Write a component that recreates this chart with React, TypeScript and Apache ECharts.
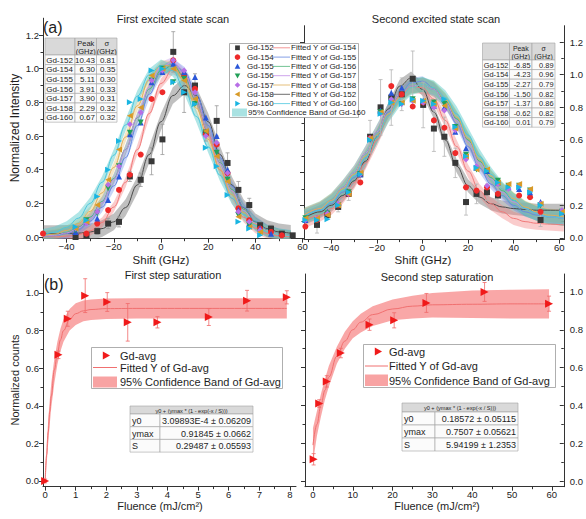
import React, { useEffect, useRef } from "react";
import * as echarts from "echarts";

const FONT = "'Liberation Sans', Arial, Helvetica, sans-serif";

const ISOTOPES = ["Gd-152", "Gd-154", "Gd-155", "Gd-156", "Gd-157", "Gd-158", "Gd-160"];

/* ---------- (a) First excited state scan: measured points ---------- */
const SCAN1_X = [-50, -45.4, -40.8, -36.2, -31.6, -27, -22.4, -17.8, -13.2, -8.6, -4, 0.6, 5.2, 9.8, 14.4, 19, 23.6, 28.2, 32.8, 37.4, 42, 46.6, 51.2, 55.8];
const SCAN1_GD152 = [null, null, null, 0.0, 0.01, 0.035, 0.08, 0.09, 0.36, 0.34, 0.45, 0.58, 1.10, 0.86, 0.90, 0.62, 0.69, 0.44, 0.28, 0.19, 0.07, 0.05, 0.02, 0.01];
const SCAN1_GD154 = [0.02, null, null, null, 0.02, 0.08, 0.16, 0.28, 0.37, 0.49, 0.82, 0.86, 1.05, 0.96, 0.88, 0.61, 0.55, 0.38, 0.17, 0.10, 0.05, 0.03, 0.01, null];
const SCAN1_GD155 = [null, null, null, 0.03, 0.09, 0.11, 0.22, 0.36, 0.61, 0.68, 0.92, 0.98, 1.03, 0.98, 0.95, 0.71, 0.60, 0.40, 0.16, 0.08, 0.05, 0.02, null, null];
const SCAN1_GD156 = [null, null, null, 0.04, 0.10, 0.14, 0.29, 0.42, 0.62, 0.68, 0.93, 1.00, 0.92, 0.94, 0.79, 0.62, 0.50, 0.34, 0.13, 0.07, 0.03, null, null, null];
const SCAN1_GD157 = [null, null, null, 0.05, 0.08, 0.15, 0.31, 0.42, 0.67, 0.74, 0.93, 0.99, 1.05, 0.99, 0.86, 0.60, 0.56, 0.38, 0.15, 0.09, 0.04, null, null, null];
const SCAN1_GD158 = [null, null, null, 0.05, 0.09, 0.19, 0.34, 0.52, 0.72, 0.77, 0.96, 1.00, 1.00, 0.93, 0.82, 0.63, 0.48, 0.33, 0.12, 0.06, 0.03, null, null, null];
const SCAN1_GD160 = [null, null, null, 0.06, 0.10, 0.24, 0.40, 0.57, 0.80, 0.82, 0.99, 1.00, 0.92, 0.86, 0.79, 0.53, 0.42, 0.25, 0.09, 0.05, 0.01, null, null, null];
const SCAN1_ERR_GD152 = [null, null, null, 0.01, 0.01, 0.02, 0.03, 0.03, 0.03, 0.04, 0.08, 0.09, 0.12, 0.12, 0.07, 0.05, 0.09, 0.06, 0.05, 0.04, 0.02, 0.02, 0.01, 0.01];

/* ---------- (a) First excited state scan: fitted curves ---------- */
const FIT1_X = [-50, -45, -40, -35, -30, -25, -20, -15, -10, -5, 0, 5, 10, 15, 20, 25, 30, 35, 40, 45, 50, 55];
const FIT1_GD152 = [0.02, 0.02, 0.021, 0.023, 0.03, 0.05, 0.09, 0.175, 0.31, 0.49, 0.685, 0.84, 0.9, 0.84, 0.685, 0.49, 0.31, 0.175, 0.09, 0.05, 0.03, 0.022];
const FIT1_GD154 = [0, 0.001, 0.005, 0.014, 0.037, 0.086, 0.178, 0.325, 0.52, 0.734, 0.912, 0.997, 0.96, 0.813, 0.607, 0.398, 0.23, 0.117, 0.052, 0.021, 0.007, 0.002];
const FIT1_GD155 = [0.003, 0.008, 0.02, 0.045, 0.094, 0.177, 0.304, 0.472, 0.663, 0.848, 0.98, 1.03, 0.98, 0.848, 0.663, 0.472, 0.304, 0.177, 0.094, 0.045, 0.02, 0.008];
const FIT1_GD156 = [0.004, 0.011, 0.027, 0.059, 0.118, 0.211, 0.348, 0.52, 0.709, 0.879, 0.99, 1.02, 0.951, 0.809, 0.626, 0.441, 0.283, 0.165, 0.088, 0.042, 0.018, 0.007];
const FIT1_GD157 = [0.004, 0.01, 0.024, 0.054, 0.11, 0.204, 0.341, 0.518, 0.713, 0.891, 1.01, 1.04, 0.967, 0.817, 0.627, 0.436, 0.275, 0.157, 0.082, 0.038, 0.016, 0.006];
const FIT1_GD158 = [0.007, 0.017, 0.039, 0.08, 0.152, 0.262, 0.413, 0.594, 0.78, 0.934, 1.02, 1.016, 0.924, 0.766, 0.58, 0.4, 0.252, 0.145, 0.076, 0.036, 0.016, 0.006];
const FIT1_GD160 = [0.012, 0.028, 0.058, 0.112, 0.2, 0.325, 0.486, 0.666, 0.837, 0.964, 1.02, 0.988, 0.878, 0.716, 0.536, 0.367, 0.231, 0.133, 0.07, 0.034, 0.015, 0.006];
const BAND1_HALF = [0.05, 0.03, 0.03, 0.03, 0.03, 0.03, 0.035];
const PEAK1 = ["10.43", "6.30", "5.11", "3.91", "3.90", "2.29", "0.67"];
const SIGMA1 = ["0.81", "0.35", "0.30", "0.33", "0.31", "0.32", "0.32"];

/* ---------- (a) Second excited state scan: measured points ---------- */
const SCAN2_X = [-51.4, -46.3, -41.7, -37, -32.4, -27.3, -23, -18.4, -13.7, -9.1, -4.3, 0.3, 5, 9.6, 14.4, 19.1, 23.7, 28.3, 33.1, 37.7, 42.4, 47.2, 51.8, 56.5, 61.2];
const SCAN2_GD152 = [null, 0.08, 0.14, 0.19, 0.27, 0.39, 0.62, 0.80, 0.86, 0.88, 0.975, 0.815, 0.67, 0.62, 0.46, 0.22, 0.27, 0.28, 0.26, null, null, null, 0.11, null, null];
const SCAN2_GD154 = [0.07, 0.11, 0.15, 0.2, 0.27, 0.34, 0.61, 0.77, 0.93, 0.88, 0.805, 0.83, 0.72, 0.675, 0.52, 0.31, 0.29, 0.31, 0.27, null, 0.26, 0.25, 0.16, null, null];
const SCAN2_GD155 = [0.11, 0.12, 0.16, 0.21, 0.28, 0.39, 0.61, 0.78, 0.89, 0.92, 0.85, 0.84, 0.81, 0.80, 0.65, 0.55, 0.43, 0.41, 0.34, 0.31, 0.30, 0.28, 0.22, null, 0.16];
const SCAN2_GD156 = [0.12, 0.11, 0.15, 0.2, 0.28, 0.39, 0.6, 0.77, 0.84, 0.82, 0.85, 0.83, 0.83, 0.82, 0.68, 0.51, 0.42, 0.41, 0.35, 0.32, 0.32, 0.29, 0.2, null, 0.16];
const SCAN2_GD157 = [0.11, 0.12, 0.15, 0.21, 0.27, 0.39, 0.61, 0.76, 0.85, 0.82, 0.84, 0.83, 0.8, 0.78, 0.66, 0.48, 0.44, 0.32, 0.33, 0.3, 0.32, 0.29, 0.21, null, 0.17];
const SCAN2_GD158 = [0.12, 0.12, 0.14, 0.2, 0.27, 0.4, 0.61, 0.77, 0.83, 0.83, 0.84, 0.84, 0.82, 0.81, 0.67, 0.5, 0.42, 0.42, 0.34, 0.33, 0.33, 0.3, 0.21, null, 0.16];
const SCAN2_GD160 = [0.11, 0.11, 0.115, 0.2, 0.28, 0.39, 0.6, 0.76, 0.83, 0.82, 0.85, 0.84, 0.82, 0.85, 0.68, 0.5, 0.43, 0.41, 0.34, 0.31, 0.31, 0.28, 0.2, null, 0.15];
const SCAN2_ERR_GD152 = [null, 0.05, 0.02, 0.03, 0.04, 0.05, 0.1, 0.17, 0.17, 0.1, 0.17, 0.14, 0.14, 0.12, 0.09, 0.08, 0.06, 0.05, 0.05, null, null, null, 0.04, null, null];

/* ---------- (a) Second excited state scan: fitted curves ---------- */
const FIT2_X = [-52, -45, -40, -35, -30, -25, -20, -15, -10, -5, 0, 5, 10, 15, 20, 25, 30, 35, 40, 45, 50, 55, 62];
const FIT2_GD152 = [0.12, 0.16, 0.2, 0.26, 0.35, 0.47, 0.62, 0.79, 0.93, 0.98, 0.91, 0.77, 0.6, 0.44, 0.32, 0.25, 0.21, 0.19, 0.18, 0.175, 0.17, 0.17, 0.17];
const FIT2_GD154 = [0.1, 0.14, 0.18, 0.25, 0.34, 0.46, 0.6, 0.75, 0.87, 0.93, 0.92, 0.85, 0.72, 0.56, 0.41, 0.29, 0.21, 0.16, 0.12, 0.1, 0.09, 0.085, 0.08];
const FIT2_GD155 = [0.13, 0.17, 0.21, 0.28, 0.37, 0.49, 0.63, 0.77, 0.88, 0.95, 0.96, 0.92, 0.83, 0.7, 0.56, 0.43, 0.33, 0.26, 0.2, 0.16, 0.14, 0.13, 0.12];
const FIT2_GD156 = [0.14, 0.18, 0.23, 0.31, 0.4, 0.52, 0.65, 0.78, 0.88, 0.93, 0.94, 0.91, 0.84, 0.73, 0.6, 0.47, 0.37, 0.29, 0.23, 0.18, 0.15, 0.13, 0.12];
const FIT2_GD157 = [0.14, 0.18, 0.23, 0.31, 0.4, 0.52, 0.65, 0.78, 0.88, 0.93, 0.94, 0.91, 0.83, 0.72, 0.59, 0.46, 0.36, 0.28, 0.22, 0.18, 0.15, 0.13, 0.12];
const FIT2_GD158 = [0.14, 0.18, 0.23, 0.3, 0.39, 0.5, 0.63, 0.76, 0.86, 0.92, 0.94, 0.92, 0.85, 0.74, 0.61, 0.48, 0.38, 0.3, 0.24, 0.19, 0.16, 0.14, 0.13];
const FIT2_GD160 = [0.13, 0.17, 0.22, 0.29, 0.38, 0.49, 0.62, 0.75, 0.85, 0.92, 0.94, 0.92, 0.86, 0.76, 0.63, 0.5, 0.39, 0.3, 0.23, 0.18, 0.15, 0.13, 0.12];
const BAND2_HALF = [0.04, 0.04, 0.03, 0.045, 0.04, 0.04, 0.045];
const PEAK2 = ["-6.85", "-4.23", "-2.27", "-1.50", "-1.37", "-0.62", "0.01"];
const SIGMA2 = ["0.89", "0.96", "0.79", "0.82", "0.86", "0.82", "0.79"];

/* ---------- (b) First step saturation ---------- */
const FLU1_X = [0, 0.435, 0.74, 1.31, 2.03, 2.70, 3.67, 5.35, 6.6, 7.9];
const FLU1_Y = [0.0, 0.671, 0.863, 0.986, 0.952, 0.844, 0.844, 0.872, 0.959, 0.977];
const FLU1_ERR = [0.01, 0.02, 0.04, 0.09, 0.05, 0.1, 0.03, 0.045, 0.055, 0.035];
const FLU1_FIT_X = [0, 0.05, 0.1, 0.15, 0.2, 0.3, 0.4, 0.5, 0.6, 0.8, 1.0, 1.25, 1.5, 2, 3, 5, 7.9];
const FLU1_FIT_Y = [0, 0.14, 0.26, 0.37, 0.45, 0.59, 0.68, 0.75, 0.8, 0.86, 0.89, 0.905, 0.912, 0.917, 0.918, 0.918, 0.918];
const FLU1_BAND_LO = [-0.04, 0.09, 0.2, 0.3, 0.39, 0.52, 0.62, 0.69, 0.74, 0.8, 0.83, 0.85, 0.857, 0.862, 0.864, 0.864, 0.864];
const FLU1_BAND_HI = [0.04, 0.2, 0.32, 0.43, 0.52, 0.65, 0.74, 0.81, 0.86, 0.915, 0.945, 0.96, 0.966, 0.971, 0.972, 0.972, 0.972];
const PARAMS1 = ["3.09893E-4 ± 0.06209", "0.91845 ± 0.0662", "0.29487 ± 0.05593"];

/* ---------- (b) Second step saturation ---------- */
const FLU2_X = [0.17, 1.57, 3.47, 7.0, 14.2, 20.4, 28.5, 43.1, 59.3];
const FLU2_Y = [0.115, 0.41, 0.527, 0.677, 0.827, 0.85, 0.942, 1.0, 0.938];
const FLU2_ERR = [0.03, 0.02, 0.03, 0.025, 0.03, 0.04, 0.05, 0.05, 0.04];
const FLU2_FIT_X = [0, 1, 2, 3, 4, 6, 8, 10, 12, 15, 20, 25, 30, 40, 50, 59.3];
const FLU2_FIT_Y = [0.19, 0.3, 0.4, 0.48, 0.55, 0.66, 0.74, 0.8, 0.84, 0.88, 0.91, 0.925, 0.932, 0.935, 0.937, 0.937];
const FLU2_BAND_LO = [0.1, 0.24, 0.34, 0.43, 0.5, 0.62, 0.7, 0.755, 0.785, 0.82, 0.85, 0.86, 0.865, 0.862, 0.86, 0.86];
const FLU2_BAND_HI = [0.28, 0.37, 0.46, 0.54, 0.61, 0.71, 0.79, 0.845, 0.885, 0.925, 0.96, 0.98, 0.995, 1.008, 1.012, 1.014];
const PARAMS2 = ["0.18572 ± 0.05115", "0.7507 ± 0.05621", "5.94199 ± 1.2353"];

const FIT_FORMULA = "y0 + (ymax * (1 - exp(-x / S)))";
const PARAM_NAMES = ["y0", "ymax", "S"];

/* ---------- tick values ---------- */
const SHIFT_TICKS = [-40, -20, 0, 20, 40, 60];
const SHIFT_MINOR = [-50, -30, -10, 10, 30, 50];
const INTENSITY_TICKS = [0, 0.2, 0.4, 0.6, 0.8, 1.0, 1.2];
const INTENSITY_MINOR = [0.1, 0.3, 0.5, 0.7, 0.9, 1.1];
const FLU1_TICKS = [0, 1, 2, 3, 4, 5, 6, 7, 8];
const FLU1_MINOR = [0.5, 1.5, 2.5, 3.5, 4.5, 5.5, 6.5, 7.5];
const FLU2_TICKS = [0, 10, 20, 30, 40, 50, 60];
const FLU2_MINOR = [5, 15, 25, 35, 45, 55];
const COUNT_TICKS = [0, 0.2, 0.4, 0.6, 0.8, 1.0];
const COUNT_MINOR = [0.1, 0.3, 0.5, 0.7, 0.9];

/* ---------- styles ---------- */
const MARK_COLORS = ["#383838", "#ee2a2a", "#2a56d8", "#22a058", "#b86ee6", "#d89a28", "#19b5e2"];
const FIT_COLORS = ["#4a4a4a", "#f07a7a", "#6688e0", "#4fb57a", "#c08ce6", "#deae58", "#4cc6de"];
const BAND_COLORS = ["rgba(105,105,105,0.42)", "rgba(242,120,120,0.38)", "rgba(95,135,230,0.35)", "rgba(80,180,120,0.42)", "rgba(185,135,230,0.35)", "rgba(228,180,90,0.35)", "rgba(80,200,200,0.45)"];
const SYMBOLS = ["rect", "circle", "triangle", "triangle", "diamond", "triangle", "triangle"];
const ROTATES = [0, 0, 0, 180, 0, 90, -90];
const LEGEND_SHAPES = ["square", "circle", "up", "down", "diamond", "left", "right"];
const FIT_LEGEND_ORDER = [1, 2, 3, 4, 5, 0, 6];
const RED = "#f01a1a";
const RED_LINE = "#f07070";
const RED_BAND = "rgba(247,130,130,0.7)";

const SCAN1 = [SCAN1_GD152, SCAN1_GD154, SCAN1_GD155, SCAN1_GD156, SCAN1_GD157, SCAN1_GD158, SCAN1_GD160];
const FIT1 = [FIT1_GD152, FIT1_GD154, FIT1_GD155, FIT1_GD156, FIT1_GD157, FIT1_GD158, FIT1_GD160];
const SCAN2 = [SCAN2_GD152, SCAN2_GD154, SCAN2_GD155, SCAN2_GD156, SCAN2_GD157, SCAN2_GD158, SCAN2_GD160];
const FIT2 = [FIT2_GD152, FIT2_GD154, FIT2_GD155, FIT2_GD156, FIT2_GD157, FIT2_GD158, FIT2_GD160];

const fmtX = (v: number) => (v < 0 ? "\u2212" + Math.abs(v) : String(v));
const fmtY = (v: number) => v.toFixed(1);

function axisPair(gridIndex: number, min: number, max: number, position: string, major: number[], minor: number[], showLabels: boolean, fmt: any, inside: boolean, margin = 4) {
  const base: any = { type: "value", gridIndex, min, max, position, splitLine: { show: false } };
  return [
    {
      ...base,
      axisLine: { show: true, onZero: false, lineStyle: { color: "#333", width: 1 } },
      axisTick: { show: true, inside, length: 4, customValues: major, lineStyle: { color: "#333", width: 1 } },
      axisLabel: { show: showLabels, customValues: major, formatter: fmt, fontSize: 9.5, color: "#222", fontFamily: FONT, margin },
    },
    {
      ...base,
      axisLine: { show: false, onZero: false },
      axisTick: { show: true, inside, length: 2.5, customValues: minor, lineStyle: { color: "#333", width: 1 } },
      axisLabel: { show: false },
    },
  ];
}

function bandSeries(xi: number, yi: number, rows: number[][], color: string, z: number) {
  return {
    type: "custom", xAxisIndex: xi, yAxisIndex: yi, clip: true, z, silent: true,
    data: rows, encode: { x: 0, y: [1, 2] },
    renderItem: (params: any, api: any) => {
      if (params.dataIndex !== 0) return null;
      const up = rows.map((r) => api.coord([r[0], r[2]]));
      const lo = rows.map((r) => api.coord([r[0], r[1]])).reverse();
      return { type: "polygon", shape: { points: up.concat(lo) }, style: { fill: color }, silent: true };
    },
  };
}

function errSeries(xi: number, yi: number, rows: number[][], color: string, z: number) {
  return {
    type: "custom", xAxisIndex: xi, yAxisIndex: yi, clip: true, z, silent: true,
    data: rows, encode: { x: 0, y: [1, 2] },
    renderItem: (params: any, api: any) => {
      const x = api.value(0);
      const a = api.coord([x, api.value(2)]);
      const b = api.coord([x, api.value(1)]);
      const st = { stroke: color, lineWidth: 0.8 };
      return {
        type: "group",
        children: [
          { type: "line", shape: { x1: a[0], y1: a[1], x2: b[0], y2: b[1] }, style: st },
          { type: "line", shape: { x1: a[0] - 2, y1: a[1], x2: a[0] + 2, y2: a[1] }, style: st },
          { type: "line", shape: { x1: b[0] - 2, y1: b[1], x2: b[0] + 2, y2: b[1] }, style: st },
        ],
      };
    },
  };
}

function lineSeries(xi: number, yi: number, xs: number[], ys: number[], color: string, z: number) {
  return {
    type: "line", xAxisIndex: xi, yAxisIndex: yi, z, silent: true,
    data: xs.map((x, j) => [x, ys[j]]), showSymbol: false, symbol: "none",
    smooth: 0.4, smoothMonotone: "x",
    lineStyle: { color, width: 1 },
  };
}

function scatterSeries(xi: number, yi: number, xs: number[], ys: (number | null)[], color: string, symbol: string, rot: number, size: number, z: number) {
  return {
    type: "scatter", xAxisIndex: xi, yAxisIndex: yi, z, silent: true,
    data: xs.map((x, j) => [x, ys[j]]).filter((p) => p[1] !== null),
    symbol, symbolRotate: rot, symbolSize: size,
    itemStyle: { color, opacity: 1 },
  };
}

function txt(text: string, x: number, y: number, size: number, align = "left", vAlign = "middle", extra: any = {}) {
  return {
    type: "text", x, y, z: 100, silent: true, ...extra,
    style: { text, fontSize: size, fontFamily: FONT, fill: "#1e1e1e", align, verticalAlign: vAlign, textAlign: align, textVerticalAlign: vAlign, lineHeight: extra.lineHeight },
  };
}

function markerEl(shape: string, cx: number, cy: number, s: number, color: string): any {
  const st = { fill: color };
  const poly = (pts: number[][]) => ({ type: "polygon", z: 101, silent: true, shape: { points: pts }, style: st });
  switch (shape) {
    case "square": return { type: "rect", z: 101, silent: true, shape: { x: cx - s * 0.85, y: cy - s * 0.85, width: s * 1.7, height: s * 1.7 }, style: st };
    case "circle": return { type: "circle", z: 101, silent: true, shape: { cx, cy, r: s }, style: st };
    case "up": return poly([[cx, cy - s], [cx + s, cy + s * 0.8], [cx - s, cy + s * 0.8]]);
    case "down": return poly([[cx, cy + s], [cx + s, cy - s * 0.8], [cx - s, cy - s * 0.8]]);
    case "left": return poly([[cx - s, cy], [cx + s * 0.8, cy - s], [cx + s * 0.8, cy + s]]);
    case "right": return poly([[cx + s, cy], [cx - s * 0.8, cy - s], [cx - s * 0.8, cy + s]]);
    default: return poly([[cx, cy - s], [cx + s, cy], [cx, cy + s], [cx - s, cy]]);
  }
}

function rectEl(x: number, y: number, w: number, h: number, fill: string, stroke: string, lw = 0.7) {
  return { type: "rect", z: 100, silent: true, shape: { x, y, width: w, height: h }, style: { fill, stroke, lineWidth: lw } };
}

function lineEl(x1: number, y1: number, x2: number, y2: number, color: string, lw = 1) {
  return { type: "line", z: 101, silent: true, shape: { x1, y1, x2, y2 }, style: { stroke: color, lineWidth: lw } };
}

function peakTable(cols: number[], top: number, headH: number, rowH: number, peaks: string[], sigmas: string[], fs: number) {
  const els: any[] = [];
  const hdr = "#d9d9d9";
  const st = "#a3a3a3";
  for (let c = 0; c < 3; c++) els.push(rectEl(cols[c], top, cols[c + 1] - cols[c], headH, hdr, st, 0.6));
  els.push(txt("Peak\n(GHz)", (cols[1] + cols[2]) / 2, top + headH / 2 + 0.5, fs - 0.5, "center", "middle", { lineHeight: 8 }));
  els.push(txt("\u03c3\n(GHz)", (cols[2] + cols[3]) / 2, top + headH / 2 + 0.5, fs - 0.5, "center", "middle", { lineHeight: 8 }));
  for (let r = 0; r < ISOTOPES.length; r++) {
    const y = top + headH + r * rowH;
    for (let c = 0; c < 3; c++) els.push(rectEl(cols[c], y, cols[c + 1] - cols[c], rowH, "#fbfbfb", st, 0.6));
    els.push(txt(ISOTOPES[r], cols[0] + 1.2, y + rowH / 2 + 0.5, fs));
    els.push(txt(peaks[r], cols[2] - 1.5, y + rowH / 2 + 0.5, fs, "right"));
    els.push(txt(sigmas[r], cols[3] - 1.5, y + rowH / 2 + 0.5, fs, "right"));
  }
  return els;
}

function paramTable(cols: number[], top: number, headH: number, rowH: number, values: string[]) {
  const els: any[] = [];
  const st = "#a3a3a3";
  els.push(rectEl(cols[0], top, cols[2] - cols[0], headH, "#d9d9d9", st, 0.6));
  els.push(txt(FIT_FORMULA, (cols[0] + cols[2]) / 2, top + headH / 2 + 0.5, 5.6, "center"));
  for (let r = 0; r < PARAM_NAMES.length; r++) {
    const y = top + headH + r * rowH;
    els.push(rectEl(cols[0], y, cols[1] - cols[0], rowH, "#fbfbfb", st, 0.6));
    els.push(rectEl(cols[1], y, cols[2] - cols[1], rowH, "#fbfbfb", st, 0.6));
    els.push(txt(PARAM_NAMES[r], cols[0] + 2, y + rowH / 2 + 0.5, 9));
    els.push(txt(values[r], cols[2] - 2, y + rowH / 2 + 0.5, 9, "right"));
  }
  return els;
}

function satLegend(box: number[], markX: number, textX: number, rows: number[], swatch: number[]) {
  const [bx, by, bw, bh] = box;
  return [
    rectEl(bx, by, bw, bh, "#ffffff", "#9a9a9a", 0.8),
    markerEl("right", markX, rows[0], 4, RED),
    txt("Gd-avg", textX, rows[0], 11),
    lineEl(swatch[0], rows[1], swatch[0] + swatch[2], rows[1], RED_LINE, 1),
    txt("Fitted Y of Gd-avg", textX, rows[1], 11),
    { ...rectEl(swatch[0], swatch[1], swatch[2], swatch[3], "#f8a3a3", "none", 0), z: 101 },
    txt("95% Confidence Band of Gd-avg", textX, rows[2], 11),
  ];
}

function buildOption() {
  const xAxis: any[] = [
    ...axisPair(0, -50, 60, "bottom", SHIFT_TICKS, SHIFT_MINOR, true, fmtX, false, 2.5),
    ...axisPair(1, -52, 62, "bottom", SHIFT_TICKS, SHIFT_MINOR, true, fmtX, false, 2.5),
    ...axisPair(2, -0.07, 8.2, "bottom", FLU1_TICKS, FLU1_MINOR, true, fmtX, false, 3),
    ...axisPair(3, -2, 63, "bottom", FLU2_TICKS, FLU2_MINOR, true, fmtX, false, 3),
  ];
  const yAxis: any[] = [
    ...axisPair(0, -0.01, 1.3, "left", INTENSITY_TICKS, INTENSITY_MINOR, true, fmtY, false),
    ...axisPair(1, -0.01, 1.3, "right", INTENSITY_TICKS, INTENSITY_MINOR, true, fmtY, true, 6),
    ...axisPair(1, -0.01, 1.3, "left", INTENSITY_TICKS, INTENSITY_MINOR, false, fmtY, false),
    ...axisPair(2, -0.03, 1.1, "left", COUNT_TICKS, COUNT_MINOR, true, fmtY, false),
    ...axisPair(3, -0.03, 1.095, "right", COUNT_TICKS, COUNT_MINOR, true, fmtY, true, 6),
    ...axisPair(3, -0.03, 1.095, "left", COUNT_TICKS, COUNT_MINOR, false, fmtY, false),
  ];

  const series: any[] = [];
  // top-left
  for (let i = 0; i < ISOTOPES.length; i++) {
    const rows = FIT1_X.map((x, j) => [x, FIT1[i][j] - BAND1_HALF[i], FIT1[i][j] + BAND1_HALF[i]]);
    series.push(bandSeries(0, 0, rows, BAND_COLORS[i], 1));
  }
  for (let i = 0; i < ISOTOPES.length; i++) series.push(lineSeries(0, 0, FIT1_X, FIT1[i], FIT_COLORS[i], 2));
  series.push(errSeries(0, 0, SCAN1_X.map((x, j) => [x, (SCAN1_GD152[j] ?? 0) - (SCAN1_ERR_GD152[j] ?? 0), (SCAN1_GD152[j] ?? 0) + (SCAN1_ERR_GD152[j] ?? 0)]).filter((r, j) => SCAN1_GD152[j] !== null && SCAN1_ERR_GD152[j] !== null), "#9a9a9a", 3));
  for (let i = 0; i < ISOTOPES.length; i++) series.push(scatterSeries(0, 0, SCAN1_X, SCAN1[i], MARK_COLORS[i], SYMBOLS[i], ROTATES[i], 6, 4));

  // top-right
  for (let i = 0; i < ISOTOPES.length; i++) {
    const rows = FIT2_X.map((x, j) => [x, FIT2[i][j] - BAND2_HALF[i], FIT2[i][j] + BAND2_HALF[i]]);
    series.push(bandSeries(2, 2, rows, BAND_COLORS[i], 1));
  }
  for (let i = 0; i < ISOTOPES.length; i++) series.push(lineSeries(2, 2, FIT2_X, FIT2[i], FIT_COLORS[i], 2));
  series.push(errSeries(2, 2, SCAN2_X.map((x, j) => [x, (SCAN2_GD152[j] ?? 0) - (SCAN2_ERR_GD152[j] ?? 0), (SCAN2_GD152[j] ?? 0) + (SCAN2_ERR_GD152[j] ?? 0)]).filter((r, j) => SCAN2_GD152[j] !== null && SCAN2_ERR_GD152[j] !== null), "#b4b4b4", 3));
  for (let i = 0; i < ISOTOPES.length; i++) series.push(scatterSeries(2, 2, SCAN2_X, SCAN2[i], MARK_COLORS[i], SYMBOLS[i], ROTATES[i], 6, 4));

  // bottom-left
  series.push(bandSeries(4, 6, FLU1_FIT_X.map((x, j) => [x, FLU1_BAND_LO[j], FLU1_BAND_HI[j]]), RED_BAND, 1));
  series.push(lineSeries(4, 6, FLU1_FIT_X, FLU1_FIT_Y, RED_LINE, 2));
  series.push(errSeries(4, 6, FLU1_X.map((x, j) => [x, FLU1_Y[j] - FLU1_ERR[j], FLU1_Y[j] + FLU1_ERR[j]]), "#f06a6a", 3));
  series.push(scatterSeries(4, 6, FLU1_X, FLU1_Y, RED, "triangle", -90, 8, 4));

  // bottom-right
  series.push(bandSeries(6, 8, FLU2_FIT_X.map((x, j) => [x, FLU2_BAND_LO[j], FLU2_BAND_HI[j]]), RED_BAND, 1));
  series.push(lineSeries(6, 8, FLU2_FIT_X, FLU2_FIT_Y, RED_LINE, 2));
  series.push(errSeries(6, 8, FLU2_X.map((x, j) => [x, FLU2_Y[j] - FLU2_ERR[j], FLU2_Y[j] + FLU2_ERR[j]]), "#f06a6a", 3));
  series.push(scatterSeries(6, 8, FLU2_X, FLU2_Y, RED, "triangle", -90, 8, 4));

  // graphics
  const g: any[] = [];
  g.push(txt("First excited state scan", 173, 19, 11, "center"));
  g.push(txt("Second excited state scan", 436, 19, 11, "center"));
  g.push(txt("(a)", 43, 27, 16));
  g.push(txt("Shift (GHz)", 161, 260, 11.5, "center"));
  g.push(txt("Shift (GHz)", 423, 260, 11.5, "center"));
  g.push(txt("Normalized Intensity", 15, 128, 12, "center", "middle", { rotation: Math.PI / 2 }));
  g.push(txt("First step saturation", 173, 275, 11, "center"));
  g.push(txt("Second step saturation", 437, 277, 11, "center"));
  g.push(txt("(b)", 44, 284, 16));
  g.push(txt("Normalized counts", 15, 380, 11, "center", "middle", { rotation: Math.PI / 2 }));
  g.push(txt("Fluence (mJ/cm\u00b2)", 160, 506, 11, "center"));
  g.push(txt("Fluence (mJ/cm\u00b2)", 437, 506, 11, "center"));

  // top legend
  g.push(rectEl(229.5, 43.5, 129, 74, "#ffffff", "#9a9a9a", 0.8));
  for (let i = 0; i < ISOTOPES.length; i++) {
    const y = 47.8 + i * 9.3;
    g.push(markerEl(LEGEND_SHAPES[i], 237.5, y, 2.8, MARK_COLORS[i]));
    g.push(txt(ISOTOPES[i], 247, y, 8));
    const k = FIT_LEGEND_ORDER[i];
    g.push(lineEl(273, y, 290, y, FIT_COLORS[k], 0.8));
    g.push(txt("Fitted Y of " + ISOTOPES[k], 291, y, 8));
  }
  g.push({ ...rectEl(232, 108.5, 15, 8, "#a9e2e2", "none", 0), z: 101 });
  g.push(txt("95% Confidence Band of " + ISOTOPES[6], 248, 112.8, 8));

  g.push(...peakTable([45, 75, 96.5, 117], 38, 17, 9.6, PEAK1, SIGMA1, 8));
  g.push(...peakTable([482.5, 509.5, 532, 555], 43, 17, 9.6, PEAK2, SIGMA2, 7.4));

  g.push(...satLegend([91.5, 347.5, 191, 41], 106, 120, [355.5, 367.5, 381.5], [93, 376.5, 24, 11]));
  g.push(...satLegend([363.5, 344.5, 192, 43], 378, 389, [351.5, 366, 380.5], [365, 374.5, 23, 11.5]));

  g.push(...paramTable([130, 160, 253], 406, 8, 12.7, PARAMS1));
  g.push(...paramTable([402, 435, 518], 403, 9, 13, PARAMS2));

  return {
    animation: false,
    backgroundColor: "#ffffff",
    textStyle: { fontFamily: FONT },
    grid: [
      { left: 43, top: 18.2, width: 259.6, height: 220.5 },
      { left: 304, top: 25.7, width: 261.5, height: 213.9 },
      { left: 43, top: 274.2, width: 253, height: 212.4 },
      { left: 305, top: 274, width: 262, height: 212.7 },
    ],
    xAxis,
    yAxis,
    series,
    graphic: { elements: g },
  };
}

export default function App() {
  const ref = useRef<HTMLDivElement>(null);
  useEffect(() => {
    const chart = echarts.init(ref.current as HTMLDivElement, null, { renderer: "svg" });
    chart.setOption(buildOption() as any);
    return () => chart.dispose();
  }, []);
  return <div ref={ref} style={{ position: "fixed", left: 0, top: 0, width: 586, height: 519, background: "#fff" }} />;
}
